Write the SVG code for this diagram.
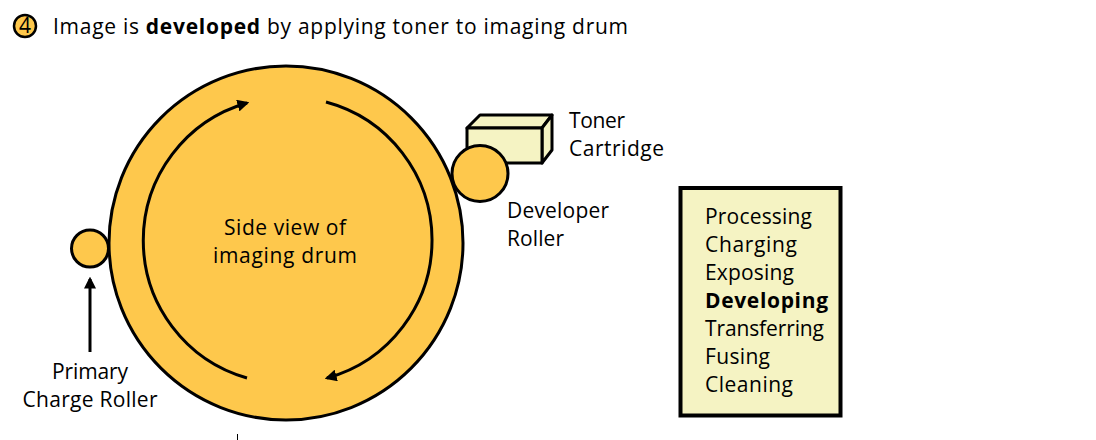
<svg xmlns="http://www.w3.org/2000/svg" width="1096" height="440" viewBox="0 0 1096 440">
<style>
text{font-family:"Open Sans","Noto Sans","Liberation Sans",sans-serif;font-size:21px;fill:#000}
.b{font-weight:bold}
.ln{stroke:#000;stroke-width:3;fill:none}
.yel{fill:#FEC84C;stroke:#000;stroke-width:3}
.cream{fill:#F5F3C3;stroke:#000;stroke-width:3;stroke-linejoin:round}
</style>
<defs>
<marker id="ah" viewBox="0 0 10 10" refX="8" refY="5" markerWidth="4" markerHeight="4" orient="auto" markerUnits="strokeWidth">
<path d="M0,0 L10,5 L0,10 Z" fill="#000"/>
</marker>
</defs>
<rect width="1096" height="440" fill="#fff"/>
<g id="title">
<circle cx="25" cy="26" r="11" fill="#FEC84C" stroke="#000" stroke-width="2.5"/>
<text x="25" y="33" text-anchor="middle" font-size="19">4</text>
<text x="53" y="34" textLength="575" lengthAdjust="spacing">Image is <tspan class="b">developed</tspan> by applying toner to imaging drum</text>
</g>
<g id="drum">
<circle class="yel" cx="286" cy="243" r="177"/>
<text x="285" y="235" text-anchor="middle" textLength="122" lengthAdjust="spacing">Side view of</text>
<text x="285" y="263" text-anchor="middle" textLength="144" lengthAdjust="spacing">imaging drum</text>
</g>
<g id="pcr">
<circle class="yel" cx="90" cy="248.5" r="18.5"/>
<text x="90" y="379" text-anchor="middle" textLength="76" lengthAdjust="spacing">Primary</text>
<text x="90" y="407" text-anchor="middle" textLength="135" lengthAdjust="spacing">Charge Roller</text>
</g>
<g id="cartridge">
<path class="cream" d="M467,128 L480,115 L552,115 L542,128 Z"/>
<path class="cream" d="M542,128 L552,115 L552,150 L542,163 Z"/>
<rect class="cream" x="467" y="128" width="75" height="35"/>
<text x="569" y="128" textLength="56" lengthAdjust="spacing">Toner</text>
<text x="569" y="156" textLength="95" lengthAdjust="spacing">Cartridge</text>
</g>
<g id="developer">
<circle class="yel" cx="480" cy="173.5" r="28"/>
<text x="507" y="218" textLength="102" lengthAdjust="spacing">Developer</text>
<text x="507" y="246" textLength="57" lengthAdjust="spacing">Roller</text>
</g>
<g id="steps">
<rect x="680.5" y="188" width="160" height="227.5" fill="#F5F3C3" stroke="#000" stroke-width="4"/>
<text x="705" y="224" textLength="107" lengthAdjust="spacing">Processing</text>
<text x="705" y="252" textLength="92" lengthAdjust="spacing">Charging</text>
<text x="705" y="280" textLength="89" lengthAdjust="spacing">Exposing</text>
<text x="705" y="308" class="b" textLength="123" lengthAdjust="spacing">Developing</text>
<text x="705" y="336" textLength="119" lengthAdjust="spacing">Transferring</text>
<text x="705" y="364" textLength="65" lengthAdjust="spacing">Fusing</text>
<text x="705" y="392" textLength="88" lengthAdjust="spacing">Cleaning</text>
</g>
<g id="connectors">
<path class="ln" d="M247,378 A143,143 0 0 1 247,103" marker-end="url(#ah)"/>
<path class="ln" d="M326,102 A143,143 0 0 1 327,378" marker-end="url(#ah)"/>
<line class="ln" x1="90" y1="352" x2="90" y2="279" marker-end="url(#ah)"/>
<line x1="237.5" y1="434" x2="237.5" y2="440" stroke="#000" stroke-width="1"/>
</g>
</svg>
